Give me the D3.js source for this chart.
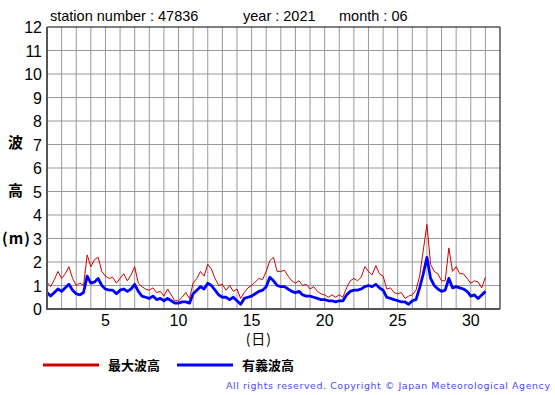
<!DOCTYPE html>
<html>
<head>
<meta charset="utf-8">
<script src="https://cdn.jsdelivr.net/npm/d3@7"></script>
<style>
  body { margin: 0; background: #fff; }
  svg text { font-family: "Liberation Sans", Arial, sans-serif; }
</style>
</head>
<body>
<div id="graph"></div>
<script>
const WIDTH = 555, HEIGHT = 395;
const margin = {top: 27, right: 55, bottom: 86, left: 47};

// readings every 6 hours, from day 1 00:00 to day 31 00:00
const stepsPerDay = 4;
const maxWave = [
  1.15, 0.95, 1.25, 1.6,  1.3, 1.5, 1.8, 1.3,  1.0, 1.1, 1.0, 2.3,  1.8, 2.1, 2.2, 1.6,
  1.4, 1.3, 1.35, 1.1,  1.3, 1.5, 1.2, 1.45,  1.8, 1.1, 0.95, 0.85,  0.8, 0.9, 0.7, 0.75,
  0.55, 0.85, 0.6, 0.35,  0.35, 0.5, 0.7, 0.45,  1.1, 1.3, 1.6, 1.4,  1.9, 1.7, 1.3, 1.0,
  1.05, 0.8, 1.0, 0.75,  0.85, 0.45, 0.7, 0.9,  1.0, 1.15, 1.3, 1.25,  1.6, 2.05, 2.2, 1.6,
  1.6, 1.65, 1.4, 1.2,  1.1, 1.2, 1.0, 1.05,  0.85, 0.95, 0.75, 0.65,  0.6, 0.5, 0.6, 0.5,
  0.6, 0.5, 0.9, 1.2,  1.3, 1.2, 1.35, 1.8,  1.6, 1.45, 1.85, 1.5,  1.4, 0.85, 0.9, 0.7,
  0.65, 0.7, 0.45, 0.55,  0.6, 0.8, 1.4, 2.5,  3.6, 1.9, 1.6, 1.5,  1.2, 1.2, 2.6, 1.6,
  1.8, 1.5, 1.5, 1.3,  1.1, 1.2, 1.15, 0.9,  1.35
];
const sigWave = [
  0.7, 0.55, 0.7, 0.85,  0.75, 0.9, 1.05, 0.8,  0.65, 0.6, 0.7, 1.4,  1.1, 1.15, 1.3, 1.0,
  0.85, 0.8, 0.8, 0.65,  0.8, 0.85, 0.75, 0.85,  1.05, 0.75, 0.55, 0.5,  0.45, 0.55, 0.4, 0.45,
  0.35, 0.45, 0.35, 0.25,  0.25, 0.3, 0.3, 0.25,  0.65, 0.8, 0.95, 0.85,  1.1, 1.0, 0.8, 0.6,
  0.5, 0.5, 0.4, 0.5,  0.35, 0.2, 0.45, 0.5,  0.55, 0.65, 0.75, 0.8,  0.95, 1.35, 1.2, 1.0,
  0.95, 0.95, 0.85, 0.75,  0.7, 0.75, 0.6, 0.55,  0.55, 0.5, 0.45, 0.4,  0.4, 0.35, 0.35, 0.3,
  0.35, 0.35, 0.6, 0.75,  0.8, 0.8, 0.85, 0.95,  1.0, 0.95, 1.05, 0.9,  0.8, 0.5, 0.45, 0.4,
  0.35, 0.3, 0.3, 0.2,  0.35, 0.4, 0.9, 1.5,  2.2, 1.3, 1.0, 0.85,  0.75, 0.8, 1.3, 0.9,
  0.95, 0.9, 0.85, 0.75,  0.55, 0.6, 0.45, 0.6,  0.75
];
const xTicks = [5, 10, 15, 20, 25, 30];
const yTicks = [0, 1, 2, 3, 4, 5, 6, 7, 8, 9, 10, 11, 12];
const legendNames = ["最大波高", "有義波高"];
const yLabel = ["波", "高", "(m)"];

let svg = d3.select("#graph")
    .append("svg")
    .attr("width", WIDTH)
    .attr("height", HEIGHT);

let x = d3.scaleLinear().domain([1, 32]).range([margin.left, WIDTH - margin.right]);
let y = d3.scaleLinear().domain([0, 12]).range([HEIGHT - margin.bottom, margin.top]);

// grid
svg.append("g")
    .selectAll("line")
    .data(d3.range(2, 32))
    .join("line")
    .attr("x1", d => x(d)).attr("x2", d => x(d))
    .attr("y1", y(0)).attr("y2", y(12))
    .attr("stroke", "#999").attr("stroke-width", 1);

svg.append("g")
    .selectAll("line")
    .data(yTicks.slice(1, -1))
    .join("line")
    .attr("x1", x(1)).attr("x2", x(32))
    .attr("y1", d => y(d)).attr("y2", d => y(d))
    .attr("stroke", "#999").attr("stroke-width", 1);

// frame
svg.append("line").attr("x1", x(1)).attr("x2", x(32)).attr("y1", y(12)).attr("y2", y(12))
    .attr("stroke", "#000").attr("stroke-width", 1);
svg.append("line").attr("x1", x(32)).attr("x2", x(32)).attr("y1", y(12)).attr("y2", y(0))
    .attr("stroke", "#000").attr("stroke-width", 1);

let series = [
  {name: legendNames[0], values: maxWave, color: "#d00000", width: 1},
  {name: legendNames[1], values: sigWave, color: "#0000ff", width: 2.8}
];

let line = d3.line()
    .x((d, i) => x(1 + i / stepsPerDay))
    .y(d => y(d));

svg.append("g")
    .selectAll("path")
    .data(series)
    .join("path")
    .attr("d", d => line(d.values))
    .attr("fill", "none")
    .attr("stroke", d => d.color)
    .attr("stroke-width", d => d.width)
    .attr("stroke-linejoin", "round");

// axes lines
svg.append("line").attr("x1", x(1)).attr("x2", x(1)).attr("y1", y(12)).attr("y2", y(0) + 1)
    .attr("stroke", "#555").attr("stroke-width", 2);
svg.append("line").attr("x1", x(1)).attr("x2", x(32)).attr("y1", y(0)).attr("y2", y(0))
    .attr("stroke", "#555").attr("stroke-width", 2);

// tick labels
svg.append("g")
    .selectAll("text")
    .data(yTicks)
    .join("text")
    .attr("x", x(1) - 5)
    .attr("y", d => y(d) + 6)
    .attr("text-anchor", "end")
    .attr("font-size", 16)
    .text(d => d);

svg.append("g")
    .selectAll("text")
    .data(xTicks)
    .join("text")
    .attr("x", d => x(d))
    .attr("y", y(0) + 17)
    .attr("text-anchor", "middle")
    .attr("font-size", 16)
    .text(d => d);

svg.append("text")
    .attr("x", x(15.5))
    .attr("y", 344)
    .attr("text-anchor", "middle")
    .attr("font-size", 14)
    .attr("letter-spacing", 1)
    .style("font-family", "'Noto Sans CJK JP', sans-serif")
    .text("(日)");

svg.append("g")
    .selectAll("text")
    .data(yLabel)
    .join("text")
    .attr("x", 2)
    .attr("y", (d, i) => 148 + i * 48)
    .attr("dx", (d, i) => i == 2 ? 0 : 6)
    .attr("font-size", 15)
    .attr("font-weight", "bold")
    .attr("letter-spacing", (d, i) => i == 2 ? 1 : 0)
    .style("font-family", "'Noto Sans CJK JP', sans-serif")
    .text(d => d);

// title
let title = svg.append("g").attr("font-size", 14.5);
title.append("text").attr("x", 50).attr("y", 21).text("station number : 47836");
title.append("text").attr("x", 243).attr("y", 21).text("year : 2021");
title.append("text").attr("x", 339).attr("y", 21).text("month : 06");

// legend
let legend = svg.append("g")
    .selectAll("g")
    .data(series)
    .join("g")
    .attr("transform", (d, i) => `translate(${43 + i * 134}, 365)`);

legend.append("line")
    .attr("x1", 0).attr("x2", 56)
    .attr("stroke", d => d.color)
    .attr("stroke-width", 3);

legend.append("text")
    .attr("x", 65)
    .attr("y", 5)
    .attr("font-size", 13)
    .attr("font-weight", "bold")
    .style("font-family", "'Noto Sans CJK JP', sans-serif")
    .text(d => d.name);

svg.append("text")
    .attr("x", 226)
    .attr("y", 389)
    .attr("font-size", 9.5)
    .attr("fill", "#4a4aff")
    .attr("textLength", 324)
    .style("font-family", "'DejaVu Sans', sans-serif")
    .text("All rights reserved. Copyright © Japan Meteorological Agency");
</script>
</body>
</html>
